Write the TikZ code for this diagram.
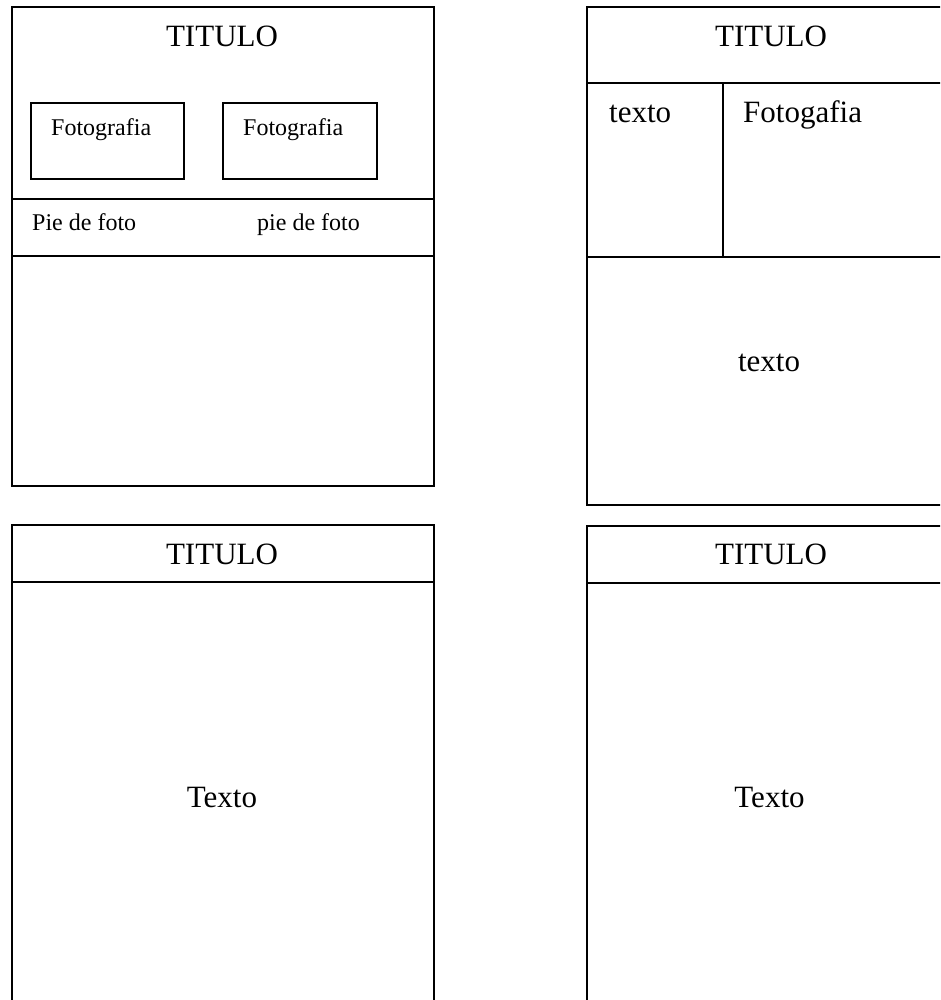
\documentclass[tikz,border=0pt]{standalone}
\usepackage{fontspec}
\setmainfont{Liberation Serif}
\begin{document}
\begin{tikzpicture}[x=1pt,y=-1pt,
  frame/.style={draw=black,line width=1.6pt},
  big/.style={font=\fontsize{31}{36}\selectfont,inner sep=0pt,anchor=base},
  small/.style={font=\fontsize{24}{28}\selectfont,inner sep=0pt,anchor=base west}]
\useasboundingbox (0,0) rectangle (940,1000);
\begin{scope}
\clip (0,0) rectangle (940,1000);
% panel 1
\draw[frame] (12,7) rectangle (434,486);
\draw[frame] (12,199) -- (434,199);
\draw[frame] (12,256) -- (434,256);
\draw[frame] (31,103) rectangle (184,179);
\draw[frame] (223,103) rectangle (377,179);
\node[big] (t1) at (222,47) {TITULO};
\node[small] (f1) at (51,136) {Fotografia};
\node[small] (f2) at (243,136) {Fotografia};
\node[small] (p1) at (32,231) {Pie de foto};
\node[small] (p2) at (257,231) {pie de foto};
% panel 2
\draw[frame] (587,7) rectangle (960,505);
\draw[frame] (587,83) -- (960,83);
\draw[frame] (587,257) -- (960,257);
\draw[frame] (723,83) -- (723,257);
\node[big] (t2) at (771,47) {TITULO};
\node[big,anchor=base west] (x1) at (609,123) {texto};
\node[big,anchor=base west] (ph) at (743,123) {Fotogafia};
\node[big] (x2) at (769,371) {texto};
% panel 3
\draw[frame] (12,525) rectangle (434,1020);
\draw[frame] (12,582) -- (434,582);
\node[big] (t3) at (222,564) {TITULO};
\node[big] (x3) at (222,807) {Texto};
% panel 4
\draw[frame] (587,526) rectangle (960,1020);
\draw[frame] (587,583) -- (960,583);
\node[big] (t4) at (771,564) {TITULO};
\node[big] (x4) at (769.5,807) {Texto};
\end{scope}
\end{tikzpicture}
\end{document}
